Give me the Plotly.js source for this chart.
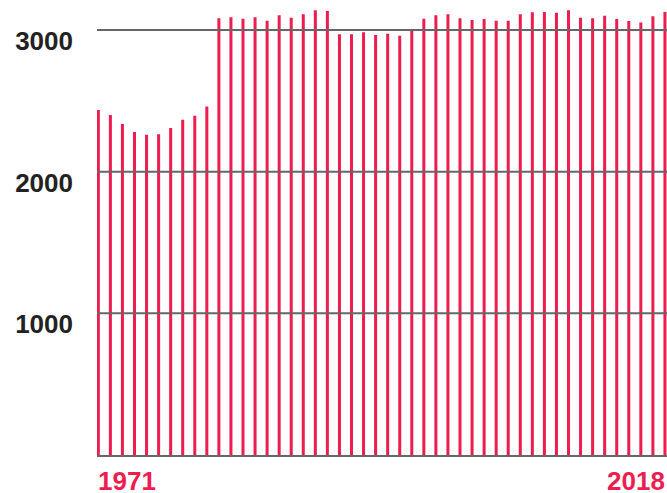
<!DOCTYPE html>
<html>
<head>
<meta charset="utf-8">
<script src="https://cdn.plot.ly/plotly-3.0.1.min.js"></script>
<style>
  html, body { margin: 0; padding: 0; background: #fff; }
  #chart { width: 667px; height: 493px; }
</style>
</head>
<body>
<div id="chart"></div>
<script>
const years = [1971,1972,1973,1974,1975,1976,1977,1978,1979,1980,
               1981,1982,1983,1984,1985,1986,1987,1988,1989,1990,
               1991,1992,1993,1994,1995,1996,1997,1998,1999,2000,
               2001,2002,2003,2004,2005,2006,2007,2008,2009,2010,
               2011,2012,2013,2014,2015,2016,2017,2018];
const values = [2435,2400,2336,2280,2261,2264,2308,2367,2395,2461,
                3083,3090,3080,3090,3066,3104,3087,3111,3139,3134,
                2970,2970,2984,2965,2974,2960,3007,3080,3104,3111,
                3083,3071,3078,3066,3066,3111,3125,3127,3122,3139,
                3087,3083,3101,3078,3064,3054,3097,3127];
const yTicks = [1000, 2000, 3000];
const yTickLabels = ['1000', '2000', '3000'];
const xLabelYears = [1971, 2018];
const xLabelTexts = ['1971', '2018'];

const RED = '#ee1d4f';
const GRID = '#666666';
const FONT = 'Liberation Sans, Arial, Helvetica, sans-serif';

const trace = {
  type: 'bar',
  x: years,
  y: values,
  marker: { color: RED, line: { width: 0 } },
  hoverinfo: 'x+y'
};

const layout = {
  width: 667,
  height: 493,
  margin: { l: 97, r: 0, t: 0, b: 38, pad: 0 },
  paper_bgcolor: '#ffffff',
  plot_bgcolor: '#ffffff',
  showlegend: false,
  bargap: 0.75,
  xaxis: {
    range: [1970.89, 2018.17],
    showgrid: false,
    zeroline: false,
    showticklabels: false,
    ticks: '',
    showline: true,
    linecolor: GRID,
    linewidth: 2,
    layer: 'above traces'
  },
  yaxis: {
    range: [0, 3212],
    tickvals: yTicks,
    ticktext: yTickLabels,
    showgrid: false,
    zeroline: false,
    ticks: '',
    ticklabelshift: 11,
    ticklabelstandoff: 23,
    tickfont: { family: FONT, size: 26, color: '#222222', weight: 'bold' }
  },
  shapes: yTicks.map(v => ({
    type: 'line', xref: 'paper', yref: 'y',
    x0: 0, x1: 1, y0: v, y1: v,
    line: { color: GRID, width: 2 },
    layer: 'above'
  })),
  annotations: xLabelYears.map((yr, i) => ({
    x: yr, xref: 'x', y: 0, yref: 'paper',
    text: '<b>' + xLabelTexts[i] + '</b>',
    showarrow: false,
    xanchor: i === 0 ? 'left' : 'right',
    xshift: i === 0 ? -2 : 2,
    yanchor: 'top',
    yshift: -9,
    font: { family: FONT, size: 26, color: RED }
  }))
};

Plotly.newPlot('chart', [trace], layout, { staticPlot: true, displayModeBar: false });
</script>
</body>
</html>
